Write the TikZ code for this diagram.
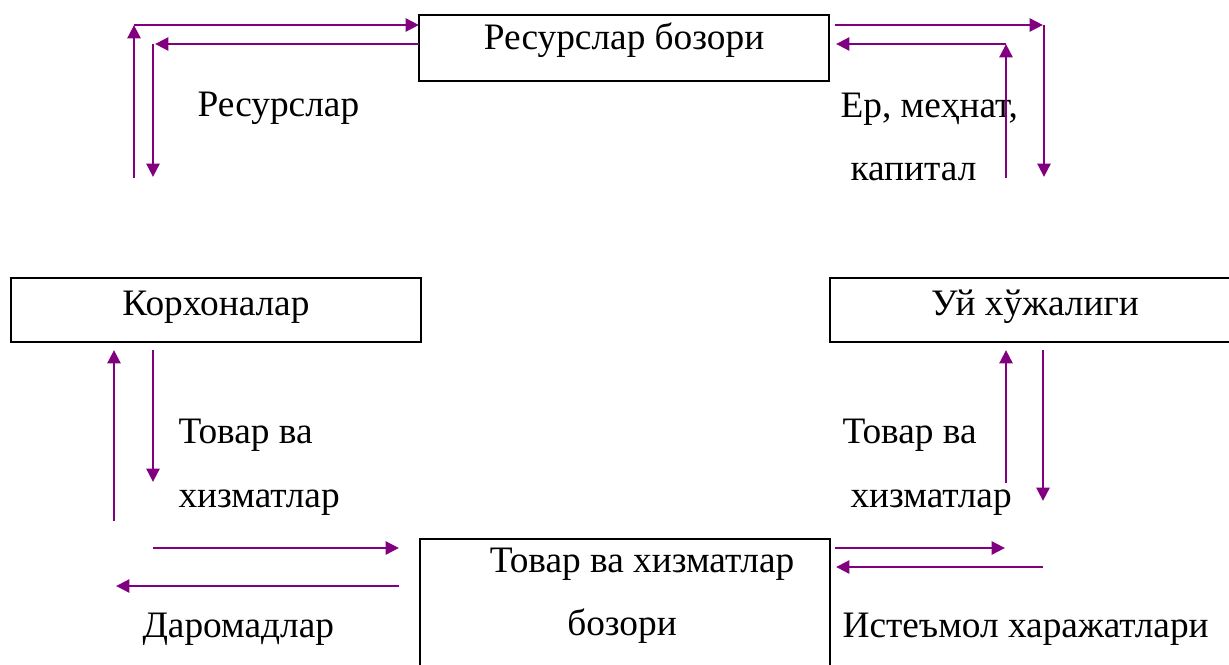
\documentclass[tikz,border=0pt]{standalone}
\usepackage{fontspec}
\setmainfont{Liberation Serif}
\usetikzlibrary{arrows.meta,calc}
\definecolor{flowpurple}{RGB}{128,0,128}

\begin{document}
\begin{tikzpicture}[x=0.375pt,y=-0.375pt,font=\fontsize{14}{16}\selectfont,
  market/.style={draw,line width=1.05pt,inner sep=0pt,outer sep=0pt,anchor=north west,minimum width=153.75pt},
  flow/.style={flowpurple,line width=1.1pt,-{Triangle[length=5pt,width=4.8pt]}},
  caption/.style={inner sep=0pt,anchor=base west}]
\useasboundingbox (0,0) rectangle (1229,664);

\node[market,text height=13.1pt,text depth=11.65pt] (res) at (419,15) {Ресурслар бозори};
\node[market,text height=13.9pt,text depth=10.1pt] (firms) at (11,278) {Корхоналар};
\node[market,text height=13.9pt,text depth=10.1pt] (homes) at (830,278) {Уй хўжалиги};
\node[market,minimum height=54pt] (goods) at (420,539) {};
\node[inner sep=0pt,anchor=base] (goodsa) at (642,572) {Товар ва хизматлар};
\node[inner sep=0pt,anchor=base] (goodsb) at (622,635) {бозори};

\node[caption] (resl) at (197,116) {Ресурслар};
\node[caption] (landl) at (840,117) {Ер, меҳнат,};
\node[caption] (capl) at (850,180) {капитал};
\node[caption] (fgoodsa) at (178,443) {Товар ва};
\node[caption] (fgoodsb) at (178,507) {хизматлар};
\node[caption] (hgoodsa) at (842,443) {Товар ва};
\node[caption] (hgoodsb) at (850,507) {хизматлар};
\node[caption] (incl) at (142,637) {Даромадлар};
\node[caption] (spendl) at (842,637) {Истеъмол харажатлари};

\coordinate (fout) at (134,178);
\coordinate (fcorner) at (134,25);
\coordinate (fback) at (153,44);
\coordinate (fin) at (153,177);
\coordinate (hcorner) at (1044,25);
\coordinate (hin) at (1044,177);
\coordinate (hback) at (1006,44);
\coordinate (hout) at (1006,178);
\coordinate (fup) at (114,521);
\coordinate (fdown) at (153,482);
\coordinate (fright) at (153,548);
\coordinate (fleft) at (116,586);
\coordinate (hup) at (1006,483);
\coordinate (hdown) at (1043,501);
\coordinate (hright) at (1005,548);
\coordinate (hleft) at (1043,567);

\draw[flow] (fout) -- (fcorner);
\draw[flow] (fcorner) -- ($(res.north west)+(0,10)$);
\draw[flow] ($(res.north west)+(0,29)$) -- (fback -| 155,0);
\draw[flow] (fback) -- (fin);
\draw[flow] ($(res.north east)+(6,10)$) -- (hcorner -| 1043,0);
\draw[flow] (hcorner) -- (hin);
\draw[flow] (hout) -- (hback);
\draw[flow] (hback) -- ($(res.north east)+(7,29)$);

\draw[flow] (fup) -- ($(firms.south west)+(103,8)$);
\draw[flow] ($(firms.south west)+(142,8)$) -- (fdown);
\draw[flow] (fright) -- ($(goods.north west)+(-21,9)$);
\draw[flow] ($(goods.north west)+(-21,47)$) -- (fleft);
\draw[flow] (hup) -- ($(homes.south west)+(176,8)$);
\draw[flow] ($(homes.south west)+(213,8)$) -- (hdown);
\draw[flow] ($(goods.north east)+(5,9)$) -- (hright);
\draw[flow] (hleft) -- ($(goods.north east)+(6,28)$);
\end{tikzpicture}
\end{document}
